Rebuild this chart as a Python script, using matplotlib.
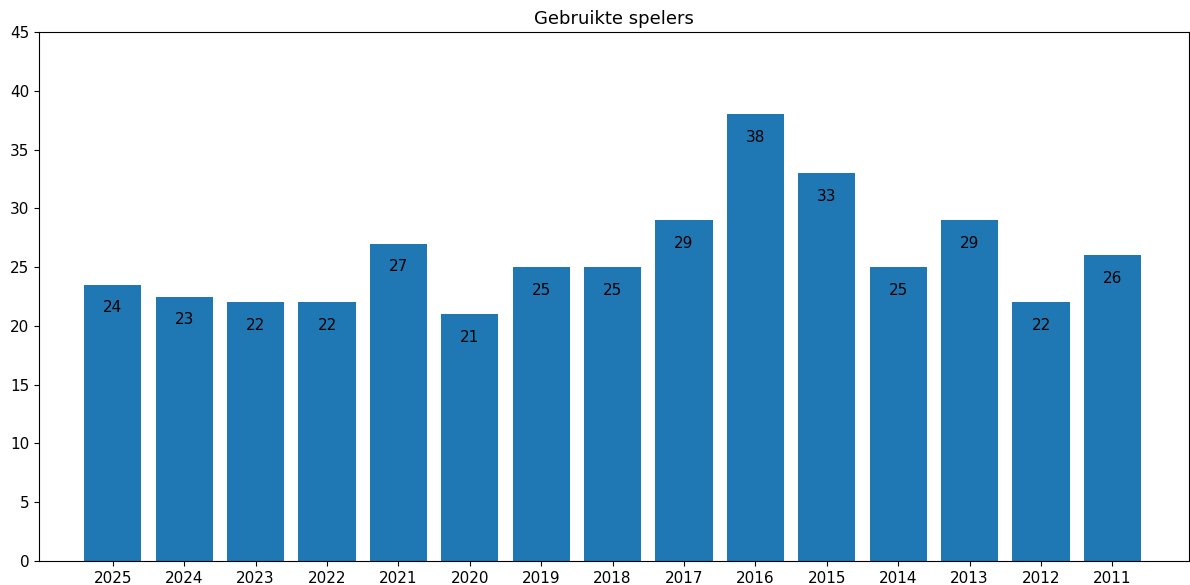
import matplotlib.pyplot as plt

seizoenen = ["2025", "2024", "2023", "2022", "2021", "2020", "2019", "2018",
             "2017", "2016", "2015", "2014", "2013", "2012", "2011"]
spelers = [23.5, 22.5, 22, 22, 27, 21, 25, 25, 29, 38, 33, 25, 29, 22, 26]
labels = ["24", "23", "22", "22", "27", "21", "25", "25",
          "29", "38", "33", "25", "29", "22", "26"]

fig = plt.figure(figsize=(11.9, 5.85), dpi=100)
ax = fig.add_axes([0.033, 0.041, 0.966, 0.904])

bars = ax.bar(seizoenen, spelers, width=0.8, color="#1f77b4")
ax.bar_label(bars, labels=labels, padding=-22, fontsize=11)

ax.set_xlim(-1.03, 15.07)
ax.set_ylim(0, 45)
ax.tick_params(labelsize=11)
ax.set_title("Gebruikte spelers", fontsize=13)

fig.savefig("out.png")
